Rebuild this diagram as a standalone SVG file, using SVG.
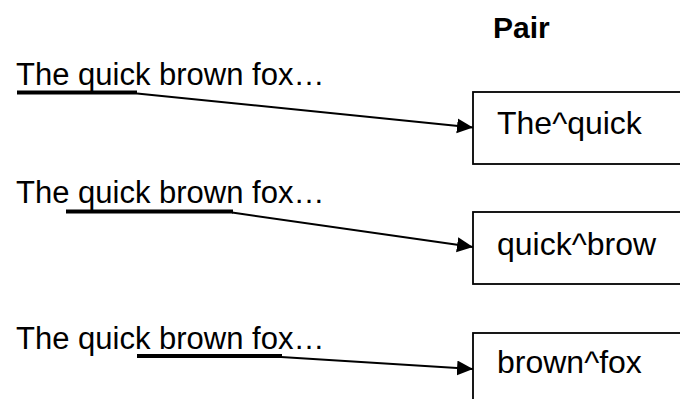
<svg xmlns="http://www.w3.org/2000/svg" width="680" height="399" viewBox="0 0 680 399">
  <style>
    .txt { font-family: "Liberation Sans", Arial, sans-serif; font-size: 31px; fill: #000; }
    .lbl { font-family: "Liberation Sans", Arial, sans-serif; font-size: 32px; fill: #000; }
    .head { font-family: "Liberation Sans", Arial, sans-serif; font-size: 30px; font-weight: bold; fill: #000; }
    .box { fill: #fff; stroke: #000; stroke-width: 1.8; }
    .ul { stroke: #000; stroke-width: 4; }
    .conn { fill: none; stroke: #000; stroke-width: 2; marker-end: url(#arrow); }
  </style>
  <defs>
    <marker id="arrow" markerUnits="userSpaceOnUse" markerWidth="17" markerHeight="16" refX="16" refY="7.5" orient="auto">
      <path d="M0,0 L16,7.5 L0,15 Z" fill="#000"/>
    </marker>
  </defs>

  <rect width="680" height="399" fill="#fff"/>

  <text class="head" x="493" y="38">Pair</text>

  <!-- source sentences with the highlighted word pair -->
  <g id="sentence1">
    <text class="txt" x="16" y="85">The quick brown fox…</text>
    <line class="ul" x1="17" y1="92.5" x2="137" y2="92.5"/>
  </g>
  <g id="sentence2">
    <text class="txt" x="16" y="203">The quick brown fox…</text>
    <line class="ul" x1="66" y1="211.5" x2="233" y2="211.5"/>
  </g>
  <g id="sentence3">
    <text class="txt" x="16" y="349">The quick brown fox…</text>
    <line class="ul" x1="137" y1="356" x2="282" y2="356"/>
  </g>

  <!-- resulting pairs -->
  <g id="pair1">
    <rect class="box" x="473" y="92" width="230" height="72"/>
    <text class="lbl" x="497" y="134">The^quick</text>
  </g>
  <g id="pair2">
    <rect class="box" x="473" y="212" width="230" height="72"/>
    <text class="lbl" x="497" y="255">quick^brow</text>
  </g>
  <g id="pair3">
    <rect class="box" x="473" y="333" width="230" height="72"/>
    <text class="lbl" x="497" y="373">brown^fox</text>
  </g>

  <g id="connectors">
    <line class="conn" x1="137" y1="93.5" x2="473" y2="127.5"/>
    <line class="conn" x1="232" y1="212.5" x2="473" y2="247"/>
    <line class="conn" x1="281" y1="357" x2="473" y2="369"/>
  </g>
</svg>
